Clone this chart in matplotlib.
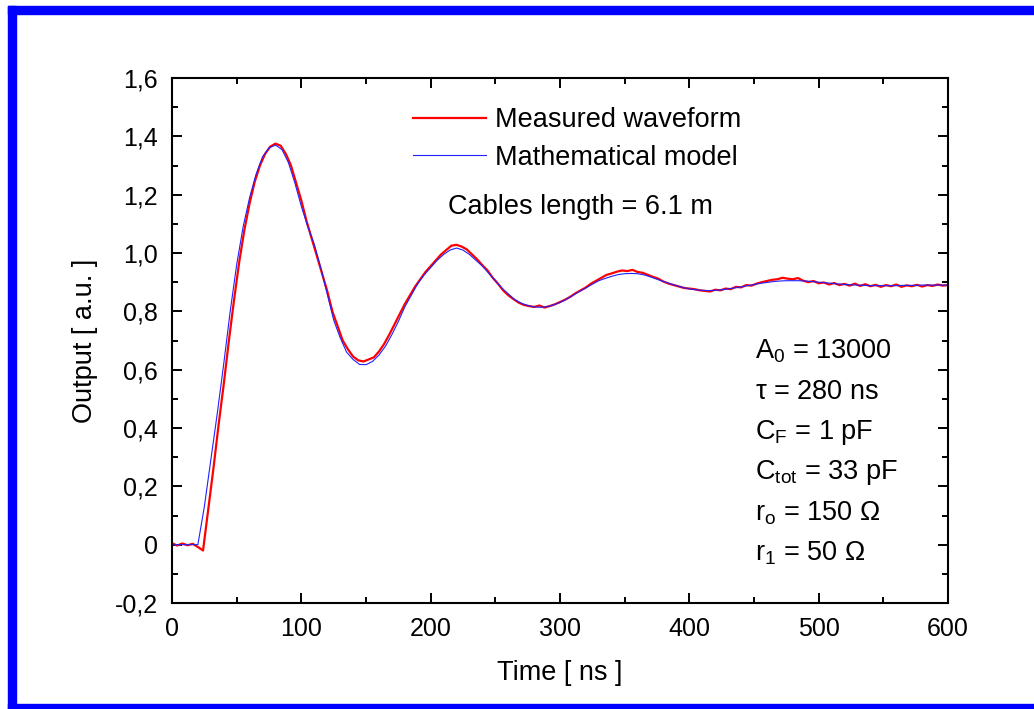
import numpy as np
import matplotlib
matplotlib.use("Agg")
import matplotlib.pyplot as plt
from matplotlib.patches import Rectangle
from matplotlib.ticker import MultipleLocator, FuncFormatter

plt.rcParams['font.family'] = ['Liberation Sans', 'DejaVu Sans']
plt.rcParams['mathtext.fontset'] = 'custom'
plt.rcParams['mathtext.rm'] = 'Liberation Sans'
plt.rcParams['mathtext.it'] = 'Liberation Sans'

# model curve, every 5 ns
t_model = np.arange(0, 601, 5)
v_model = [0, 0, 0, 0, 0, 0.13, 0.29, 0.45, 0.62, 0.80,
           0.96, 1.09, 1.19, 1.27, 1.33, 1.36, 1.37, 1.355, 1.31, 1.24,
           1.16, 1.09, 1.03, 0.95, 0.86, 0.77, 0.71, 0.66, 0.635, 0.618,
           0.617, 0.628, 0.650, 0.680, 0.72, 0.765, 0.815, 0.855, 0.895, 0.925,
           0.95, 0.975, 0.995, 1.01, 1.017, 1.01, 0.995, 0.975, 0.955, 0.93,
           0.905, 0.88, 0.86, 0.84, 0.828, 0.82, 0.815, 0.814, 0.816, 0.822,
           0.83, 0.842, 0.855, 0.868, 0.88, 0.893, 0.905, 0.913, 0.92, 0.926,
           0.929, 0.930, 0.929, 0.925, 0.918, 0.91, 0.902, 0.895, 0.888, 0.882,
           0.877, 0.874, 0.872, 0.871, 0.872, 0.874, 0.877, 0.880, 0.884, 0.888,
           0.892, 0.896, 0.899, 0.902, 0.904, 0.905, 0.905, 0.905, 0.904, 0.902,
           0.900, 0.898, 0.896, 0.894, 0.892, 0.891, 0.890, 0.889, 0.888, 0.888,
           0.888, 0.888, 0.888, 0.889, 0.889, 0.889, 0.890, 0.890, 0.890, 0.890,
           0.890]

# measured waveform, every 4 ns
t_meas = np.arange(0, 601, 4)
v_meas = [0.005, -0.003, 0.004, -0.002, 0.003, -0.008, -0.02, 0.12, 0.26, 0.41,
          0.55, 0.70, 0.84, 0.97, 1.08, 1.17, 1.245, 1.30, 1.34, 1.365,
          1.375, 1.368, 1.34, 1.30, 1.24, 1.18, 1.11, 1.05, 0.99, 0.93,
          0.87, 0.80, 0.75, 0.70, 0.67, 0.645, 0.632, 0.628, 0.635, 0.642,
          0.662, 0.688, 0.72, 0.755, 0.79, 0.825, 0.855, 0.885, 0.91, 0.935,
          0.955, 0.975, 0.995, 1.01, 1.025, 1.028, 1.022, 1.012, 0.995, 0.978,
          0.958, 0.94, 0.915, 0.895, 0.872, 0.855, 0.842, 0.83, 0.822, 0.818,
          0.815, 0.82, 0.813, 0.818, 0.824, 0.832, 0.84, 0.85, 0.862, 0.872,
          0.882, 0.895, 0.905, 0.915, 0.925, 0.93, 0.936, 0.94, 0.938, 0.942,
          0.935, 0.932, 0.925, 0.918, 0.912, 0.902, 0.895, 0.89, 0.885, 0.88,
          0.878, 0.876, 0.872, 0.87, 0.868, 0.874, 0.872, 0.878, 0.876, 0.884,
          0.882, 0.89, 0.888, 0.895, 0.9, 0.904, 0.908, 0.91, 0.915, 0.912,
          0.91, 0.914, 0.905, 0.9, 0.904, 0.896, 0.899, 0.892, 0.897, 0.89,
          0.894, 0.888, 0.895, 0.887, 0.893, 0.886, 0.891, 0.884, 0.89, 0.886,
          0.892, 0.884, 0.889, 0.886, 0.891, 0.885, 0.89, 0.887, 0.892, 0.888,
          0.89]

params = [r'A$_0$ = 13000', r'$\tau$ = 280 ns', r'C$_\mathrm{F}$ = 1 pF',
          r'C$_\mathrm{tot}$ = 33 pF', r'r$_\mathrm{o}$ = 150 $\Omega$',
          r'r$_1$ = 50 $\Omega$']

W, H = 1034, 709
fig = plt.figure(figsize=(W / 100, H / 100), dpi=100)
ax = fig.add_axes([172 / W, 1 - 603 / H, 776 / W, 525 / H])

ax.plot(t_meas, v_meas, color='#ff0000', lw=1.6, label='Measured waveform')
ax.plot(t_model, v_model, color='#2020ff', lw=0.8, label='Mathematical model')

ax.set_xlim(0, 600)
ax.set_ylim(-0.2, 1.6)
ax.xaxis.set_major_locator(MultipleLocator(100))
ax.xaxis.set_minor_locator(MultipleLocator(50))
ax.yaxis.set_major_locator(MultipleLocator(0.2))
ax.yaxis.set_minor_locator(MultipleLocator(0.1))

def comma(v, pos):
    if abs(v) < 1e-9:
        return '0'
    return ('%.1f' % v).replace('.', ',')

ax.yaxis.set_major_formatter(FuncFormatter(comma))
ax.tick_params(which='both', direction='in', top=True, right=True, width=1.4, labelsize=18)
ax.tick_params(which='major', length=7)
ax.tick_params(which='minor', length=4)
ax.tick_params(axis='y', pad=10)
ax.tick_params(axis='x', pad=10)
for s in ax.spines.values():
    s.set_linewidth(1.5)

ax.set_xlabel('Time [ ns ]', fontsize=19.5, labelpad=14)
ax.set_ylabel('Output [ a.u. ]', fontsize=19.5, labelpad=12)

ax.legend(loc='upper left', bbox_to_anchor=(0.311, 0.944), frameon=False,
          fontsize=19.5, handlelength=2.7, handletextpad=0.3, labelspacing=0.42,
          borderpad=0, borderaxespad=0)

ax.text(0.526, 0.754, 'Cables length = 6.1 m', transform=ax.transAxes,
        fontsize=19.5, ha='center', va='center')

for i, p in enumerate(params):
    ax.text(0.751, 0.480 - i * 0.0772, p, transform=ax.transAxes,
            fontsize=19.5, ha='left', va='center')

# blue frame around the picture
blue = '#0000ff'
fig.patches.append(Rectangle((8 / W, 0), 8 / W, 1 - 6 / H, transform=fig.transFigure,
                             color=blue, zorder=5))
fig.patches.append(Rectangle((8 / W, 1 - 14 / H), 1, 8 / H, transform=fig.transFigure,
                             color=blue, zorder=5))
fig.patches.append(Rectangle((8 / W, 0), 1, 5 / H, transform=fig.transFigure,
                             color=blue, zorder=5))

fig.savefig('out.png', dpi=100)
